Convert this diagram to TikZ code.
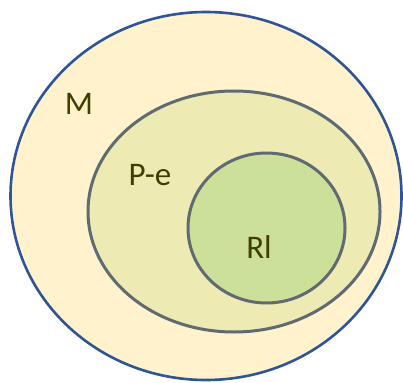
\documentclass[tikz,border=0pt]{standalone}
\usepackage{fontspec}
\setmainfont{Carlito}
\usepackage{tikz}

\definecolor{outfill}{HTML}{FFF2CC}
\definecolor{outline}{HTML}{2F5597}
\definecolor{midfill}{HTML}{EEEAB4}
\definecolor{infill}{HTML}{CDE09A}
\definecolor{grayline}{HTML}{5F6A72}
\definecolor{txt}{HTML}{3F3F00}

\begin{document}
\begin{tikzpicture}[x=1pt,y=-1pt]
\tikzstyle{lab}= [inner sep=0pt, text=txt, font=\fontsize{33}{33}\selectfont]
\useasboundingbox (0,0) rectangle (403,382);
%1
\draw[line width=2.6pt, draw=outline, fill=outfill] (206,196) ellipse (195.5 and 184);
%2
\draw[line width=3pt, draw=grayline, fill=midfill] (234,211.5) ellipse (146 and 120.5);
%3
\draw[line width=3pt, draw=grayline, fill=infill] (266.5,228) ellipse (78.5 and 75);
%labels
\node[lab] (m) at (79,104) {M};
\node[lab] (pe) at (150,175) {P-e};
\node[lab] (rl) at (259,247) {Rl};
\end{tikzpicture}
\end{document}
